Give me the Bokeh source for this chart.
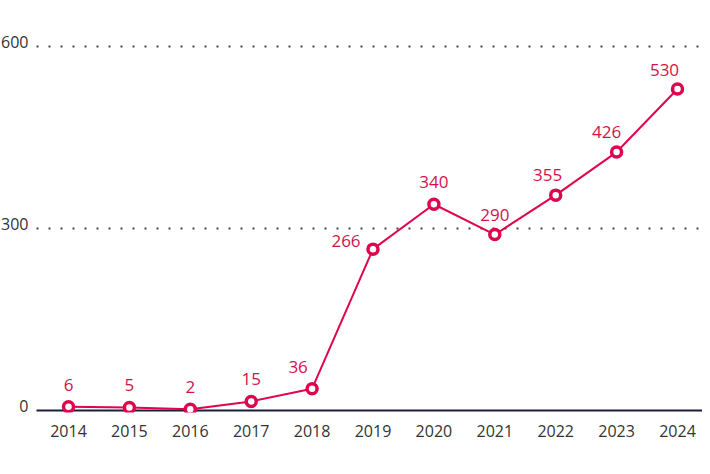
from bokeh.plotting import figure
from bokeh.models import ColumnDataSource, Range1d, FixedTicker
from bokeh.core.properties import value
from bokeh.embed import file_html
from bokeh.resources import INLINE

years = [2014, 2015, 2016, 2017, 2018, 2019, 2020, 2021, 2022, 2023, 2024]
counts = [6, 5, 2, 15, 36, 266, 340, 290, 355, 426, 530]
y_ticks = [0, 300, 600]
y_tick_labels = ["0", "300", "600"]
year_labels = [str(y) for y in years]

RED = "#E0044D"
RED_TXT = "#D0124C"
TXT = "#333333"
FONT = "Open Sans"

PX_YEAR = 60.9
PX_UNIT = 364 / 600
FW, FH = 702, 412
x_start = 2014 - 68 / PX_YEAR
x_end = x_start + FW / PX_YEAR
y_start = -2 / PX_UNIT
y_end = 600 + 46 / PX_UNIT

p = figure(frame_width=FW, frame_height=FH, output_backend="svg", toolbar_location=None,
           x_range=Range1d(x_start, x_end), y_range=Range1d(y_start, y_end),
           min_border_left=0, min_border_right=0, min_border_top=0, min_border_bottom=44)
p.outline_line_color = None
p.background_fill_color = "white"
p.border_fill_color = "white"
p.xgrid.visible = False
p.ygrid.visible = False
p.yaxis.visible = False

ax = p.xaxis[0]
ax.ticker = FixedTicker(ticks=years)
ax.major_label_overrides = {y: l for y, l in zip(years, year_labels)}
ax.axis_line_color = None
ax.major_tick_line_color = None
ax.minor_tick_line_color = None
ax.major_label_standoff = 6
ax.major_label_text_font = FONT
ax.major_label_text_font_size = "16px"
ax.major_label_text_color = TXT

# dotted gridlines
gx0 = x_start + 36 / PX_YEAR
gx1 = x_start + 700 / PX_YEAR
grid_vals = [v for v in y_ticks if v != 0]
p.segment(x0=[gx0] * len(grid_vals), x1=[gx1] * len(grid_vals), y0=grid_vals, y1=grid_vals,
          line_color="#444444", line_width=2, line_dash="2 10")
# zero baseline
p.segment(x0=[gx0], x1=[x_end], y0=[0], y1=[0], line_color="#1c1c3c", line_width=2)

# y tick labels
p.text(x=[x_start + 28 / PX_YEAR] * len(y_ticks), y=y_ticks, text=y_tick_labels,
       y_offset=-5, text_align="right", text_baseline="middle", text_font=value(FONT),
       text_font_size="16px", text_color=TXT)

# label placement nudges (screen px), per point
label_dx = [0, 0, 0, 0, -14, -27, 0, 0, -8, -10, -13]
label_dy = [-22, -22, -22, -22, -22, -8, -22, -20, -20, -20, -19]

src = ColumnDataSource(dict(
    x=years, y=counts, label=[str(c) for c in counts], xo=label_dx, yo=label_dy,
))
p.line("x", "y", source=src, line_color=RED, line_width=2)
p.scatter("x", "y", source=src, size=10, fill_color="white", line_color=RED, line_width=3.5)
p.text(x="x", y="y", text="label", source=src, x_offset="xo", y_offset="yo",
       text_align="center", text_baseline="middle", text_font=value(FONT),
       text_font_size="17px", text_color=RED_TXT)

open("out.html", "w").write(file_html(p, INLINE))
